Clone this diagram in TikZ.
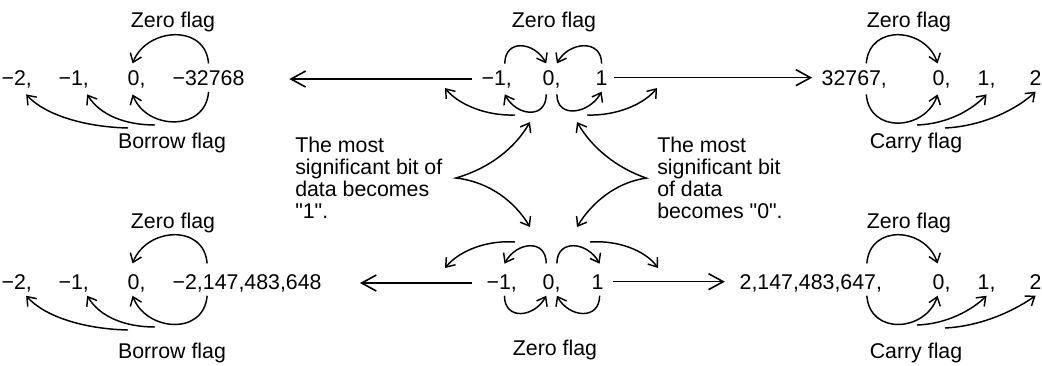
\documentclass[tikz,border=0pt]{standalone}
\usepackage{fontspec}
\setmainfont{Liberation Sans}
\usetikzlibrary{arrows.meta}

\tikzset{
  num/.style={anchor=base west, outer sep=5pt},
  flaglbl/.style={anchor=base},
  bigarr/.style={-{Straight Barb[length=11pt,width=12pt]}, line width=1.2pt},
  flagarr/.style={-{Straight Barb[length=6pt,width=9pt]}, line width=1.1pt},
  msbarr/.style={{Straight Barb[length=6pt,width=9pt]}-{Straight Barb[length=6pt,width=9pt]}, line width=1.1pt}
}

\begin{document}
\begin{tikzpicture}[x=0.75pt, y=-0.75pt,
  every node/.style={font=\fontsize{16}{16.5}\selectfont, inner sep=0pt}]
\useasboundingbox (0,0) rectangle (1042,365);

% 16 bit row
\node[num] (tlm2) at (-5,85) {−2,};
\node[num] (tlm1) at (52,85) {−1,};
\node[num] (tl0) at (121,85) {0,};
\node[num] (tlmin) at (166,85) {−32768};
\node[num] (tmm1) at (475,85) {−1,};
\node[num] (tm0) at (536,85) {0,};
\node[num] (tm1) at (589,85) {1};
\node[num] (tr32767) at (815,85) {32767,};
\node[num] (tr0) at (926,85) {0,};
\node[num] (tr1) at (971,85) {1,};
\node[num] (tr2) at (1023,85) {2};

\node[flaglbl] (tlzero) at (173,27) {Zero flag};
\node[flaglbl] (tlborrow) at (172,148) {Borrow flag};
\node[flaglbl] (tmzero) at (554,27) {Zero flag};
\node[flaglbl] (trzero) at (909,27) {Zero flag};
\node[flaglbl] (trcarry) at (916,148) {Carry flag};

% 32 bit row
\node[num] (blm2) at (-5,289) {−2,};
\node[num] (blm1) at (52,289) {−1,};
\node[num] (bl0) at (121,289) {0,};
\node[num] (blmin) at (166,289) {−2,147,483,648};
\node[num] (bmm1) at (480,289) {−1,};
\node[num] (bm0) at (536,289) {0,};
\node[num] (bm1) at (585,289) {1};
\node[num] (br2147) at (733,289) {2,147,483,647,};
\node[num] (br0) at (926,289) {0,};
\node[num] (br1) at (971,289) {1,};
\node[num] (br2) at (1023,289) {2};

\node[flaglbl] (blzero) at (173,228) {Zero flag};
\node[flaglbl] (blborrow) at (172,358) {Borrow flag};
\node[flaglbl] (bmzero) at (555,355) {Zero flag};
\node[flaglbl] (brzero) at (909,228) {Zero flag};
\node[flaglbl] (brcarry) at (916,358) {Carry flag};

% msb texts
\node[anchor=north west, align=left] (msb1) at (295,137)
  {The most\\significant bit of\\data becomes\\\textquotedbl 1\textquotedbl.};
\node[anchor=north west, align=left] (msb0) at (657,137)
  {The most\\significant bit\\of data\\becomes \textquotedbl 0\textquotedbl.};

\coordinate (tlb1) at (155,125);
\coordinate (tlb2) at (128,128);
\coordinate (tml) at (515,115);
\coordinate (tmlend) at (445,88);
\coordinate (tmr) at (587,115);
\coordinate (tmrend) at (657,88);
\coordinate (trc1) at (917,125);
\coordinate (trc2) at (945,128);
\coordinate (blb1) at (155,327);
\coordinate (blb2) at (128,330);
\coordinate (bml) at (515,242);
\coordinate (bmlend) at (445,268);
\coordinate (bmr) at (590,242);
\coordinate (bmrend) at (658,268);
\coordinate (brc1) at (917,325);
\coordinate (brc2) at (945,328);
\coordinate (tipL1) at (530,122);
\coordinate (tipL2) at (530,227);
\coordinate (tipR1) at (577,122);
\coordinate (tipR2) at (577,227);

% horizontal arrows
\draw[bigarr] ([xshift=-2pt]tmm1.west) -- ++(-183,0);
\draw[bigarr] (tm1.east) -- ++(198,0);
\draw[bigarr] ([xshift=-6pt]bmm1.west) -- ++(-112,0);
\draw[bigarr] ([xshift=2pt]bm1.east) -- ++(112,0);

% top left
\draw[flagarr] (tlmin.north) .. controls +(-3,-40) and +(14,-36) .. ([xshift=-3pt]tl0.north);
\draw[flagarr] (tlmin.south) .. controls +(-3,40) and +(14,36) .. ([xshift=-3pt]tl0.south);
\draw[flagarr] (tlb1) .. controls (125,125) and (100,115) .. ([xshift=10pt]tlm1.south);
\draw[flagarr] (tlb2) .. controls (85,127) and (45,115) .. ([xshift=7pt]tlm2.south);

% top middle
\draw[flagarr] ([xshift=6pt]tmm1.north) .. controls +(0,-25) and +(-12,-22) .. ([xshift=-4pt]tm0.north);
\draw[flagarr] (tm1.north) .. controls +(0,-25) and +(12,-22) .. ([xshift=4pt]tm0.north);
\draw[flagarr] ([xshift=-4pt]tm0.south) .. controls +(0,25) and +(12,22) .. ([xshift=6pt]tmm1.south);
\draw[flagarr] ([xshift=4pt]tm0.south) .. controls +(0,25) and +(-12,22) .. (tm1.south);
\draw[flagarr] (tml) .. controls (485,116) and (458,104) .. (tmlend);
\draw[flagarr] (tmr) .. controls (617,116) and (644,104) .. (tmrend);

% top right
\draw[flagarr] ([xshift=9pt]tr32767.north) .. controls +(3,-40) and +(-12,-36) .. ([xshift=-3pt]tr0.north);
\draw[flagarr] ([xshift=9pt]tr32767.south) .. controls +(3,40) and +(-12,36) .. ([xshift=-3pt]tr0.south);
\draw[flagarr] (trc1) .. controls (947,124) and (972,110) .. (tr1.south);
\draw[flagarr] (trc2) .. controls (985,126) and (1018,108) .. (tr2.south);

% bottom left
\draw[flagarr] ([xshift=-30pt,yshift=3pt]blmin.north) .. controls +(-3,-40) and +(14,-36) .. ([xshift=-3pt,yshift=3pt]bl0.north);
\draw[flagarr] ([xshift=-30pt,yshift=2pt]blmin.south) .. controls +(-3,40) and +(14,36) .. ([xshift=-3pt,yshift=2pt]bl0.south);
\draw[flagarr] (blb1) .. controls (125,327) and (100,317) .. ([xshift=10pt,yshift=2pt]blm1.south);
\draw[flagarr] (blb2) .. controls (85,329) and (45,317) .. ([xshift=7pt,yshift=2pt]blm2.south);

% bottom middle
\draw[flagarr] ([xshift=-4pt,yshift=3pt]bm0.north) .. controls +(0,-25) and +(12,-22) .. ([xshift=2pt,yshift=3pt]bmm1.north);
\draw[flagarr] ([xshift=4pt,yshift=3pt]bm0.north) .. controls +(0,-25) and +(-12,-22) .. ([xshift=1.5pt,yshift=3pt]bm1.north);
\draw[flagarr] ([xshift=2pt,yshift=2pt]bmm1.south) .. controls +(0,25) and +(-12,22) .. ([xshift=-4pt,yshift=2pt]bm0.south);
\draw[flagarr] ([xshift=1.5pt]bm1.south) .. controls +(0,25) and +(12,22) .. ([xshift=4pt,yshift=2pt]bm0.south);
\draw[flagarr] (bml) .. controls (488,240) and (460,250) .. (bmlend);
\draw[flagarr] (bmr) .. controls (617,240) and (645,250) .. (bmrend);

% bottom right
\draw[flagarr] ([xshift=42pt,yshift=3pt]br2147.north) .. controls +(3,-40) and +(-12,-36) .. ([xshift=-3pt,yshift=3pt]br0.north);
\draw[flagarr] ([xshift=42pt,yshift=2pt]br2147.south) .. controls +(3,40) and +(-12,36) .. ([xshift=-3pt,yshift=2pt]br0.south);
\draw[flagarr] (brc1) .. controls (947,324) and (972,310) .. ([yshift=2pt]br1.south);
\draw[flagarr] (brc2) .. controls (985,326) and (1018,308) .. (br2.south);

% msb arrows
\draw[msbarr] (tipL1) .. controls (515,148) and (490,168) .. ([xshift=10pt]msb1.east)
  .. controls (490,182) and (515,202) .. (tipL2);
\draw[msbarr] (tipR1) .. controls (592,148) and (617,168) .. ([xshift=-8pt]msb0.west)
  .. controls (617,182) and (592,202) .. (tipR2);
\end{tikzpicture}
\end{document}
